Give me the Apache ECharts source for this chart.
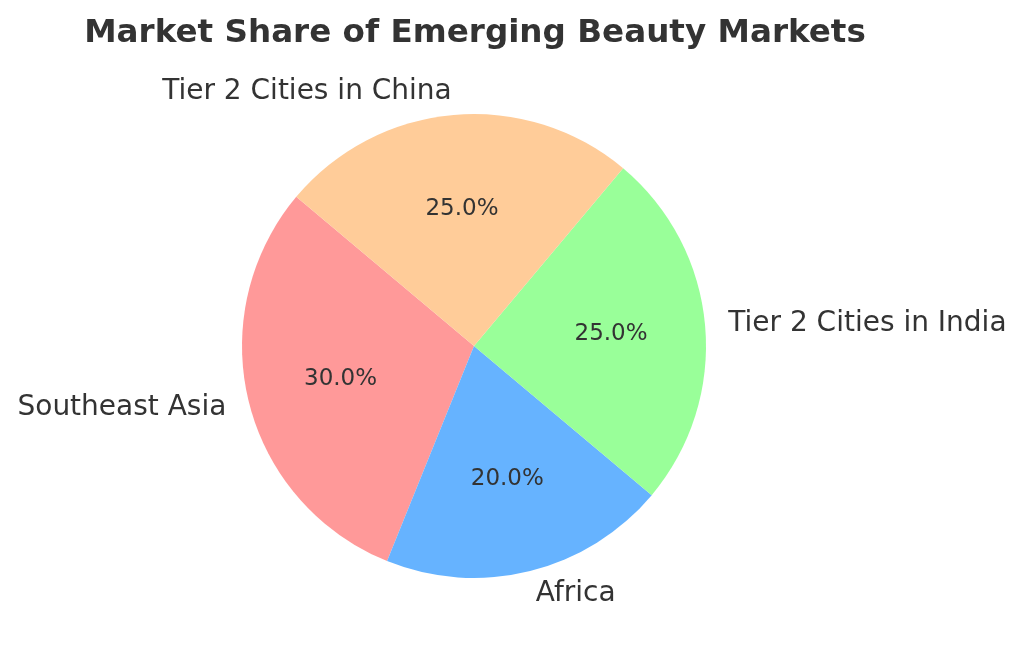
<!DOCTYPE html>
<html>
<head>
<meta charset="utf-8">
<script src="https://cdn.jsdelivr.net/npm/echarts@6/dist/echarts.min.js"></script>
<style>html,body{margin:0;padding:0;background:#fff}#chart{width:1024px;height:653px}</style>
</head>
<body>
<div id="chart"></div>
<script>
const categories = ['Southeast Asia', 'Africa', 'Tier 2 Cities in India', 'Tier 2 Cities in China'];
const shares = [30, 20, 25, 25];
const colors = ['#ff9999', '#66b3ff', '#99ff99', '#ffcc99'];

const R = 232;
const cx = 474, cy = 346;
const data = categories.map((name, i) => ({ name: name, value: shares[i], itemStyle: { color: colors[i] } }));
const total = shares.reduce((a, b) => a + b, 0);

const chart = echarts.init(document.getElementById('chart'), null, { renderer: 'canvas' });
chart.setOption({
  animation: false,
  backgroundColor: '#ffffff',
  title: {
    text: 'Market Share of Emerging Beauty Markets',
    left: cx - 4, textAlign: 'center', top: 12,
    textStyle: { fontFamily: 'DejaVu Sans', fontWeight: 'bold', fontSize: 32.6, color: '#333333' }
  },
  series: [
    {
      type: 'pie', center: [cx, cy], radius: [0, R], startAngle: 140, clockwise: false,
      silent: true, avoidLabelOverlap: false,
      data: data,
      label: {
        show: true, position: 'outside', fontFamily: 'DejaVu Sans', fontSize: 28, color: '#333333',
        distanceToLabelLine: 0, formatter: '{b}'
      },
      labelLine: { show: false, length: R * 0.1, length2: 0 },
      emphasis: { disabled: true }
    },
    {
      type: 'pie', center: [cx, cy], radius: [0, R * 1.16], startAngle: 140, clockwise: false,
      silent: true, avoidLabelOverlap: false,
      data: data.map(d => ({ name: d.name, value: d.value, itemStyle: { color: 'rgba(0,0,0,0)' } })),
      label: {
        show: true, position: 'inside', fontFamily: 'DejaVu Sans', fontSize: 23, color: '#333333',
        formatter: p => (p.value / total * 100).toFixed(1) + '%'
      },
      labelLine: { show: false },
      emphasis: { disabled: true }
    }
  ]
});
</script>
</body>
</html>
